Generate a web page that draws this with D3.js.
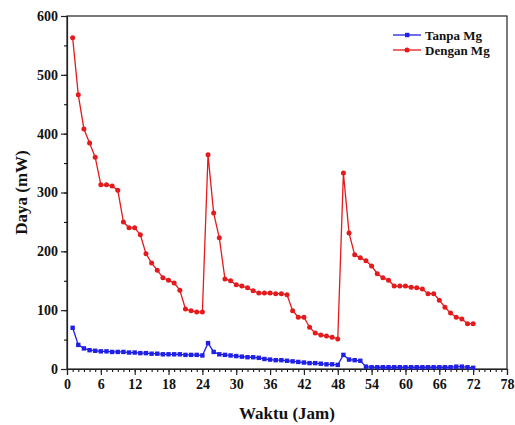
<!DOCTYPE html>
<html>
<head>
<meta charset="utf-8" />
<script src="https://d3js.org/d3.v7.min.js"></script>
<style>
  body { margin: 0; background: #fff; }
  text { font-family: "Liberation Serif", "DejaVu Serif", serif; font-weight: bold; }
</style>
</head>
<body>
<div id="chart"></div>
<script>
// hours 1..72
var hours = d3.range(1, 73);

var tanpaMg = [70, 41, 35, 32, 31, 30, 30, 29, 29, 29, 28, 28, 27, 27, 26, 26, 25, 25, 25, 25, 24, 24, 24, 23,
  44, 29, 25, 24, 23, 22, 21, 20, 20, 19, 17, 16, 15, 15, 14, 13, 12, 11, 10, 10, 9, 8, 8, 7,
  24, 16, 15, 14, 4, 3, 3, 3, 3, 3, 3, 3, 3, 3, 3, 3, 3, 3, 3, 3, 4, 4, 3, 2];

var denganMg = [563, 466, 408, 384, 360, 313, 313, 311, 304, 250, 240, 240, 228, 196, 180, 168, 155, 151, 146, 134, 102, 99, 97, 97,
  364, 265, 223, 153, 150, 143, 141, 138, 133, 129, 129, 129, 128, 128, 126, 99, 88, 88, 71, 61, 58, 56, 54, 51,
  333, 231, 194, 189, 184, 175, 162, 155, 151, 141, 141, 141, 139, 138, 136, 128, 128, 117, 105, 95, 88, 85, 77, 77];

var xTicks = [0, 6, 12, 18, 24, 30, 36, 42, 48, 54, 60, 66, 72, 78];
var yTicks = [0, 100, 200, 300, 400, 500, 600];
var seriesNames = ["Tanpa Mg", "Dengan Mg"];

var width = 515, height = 425;
var margin = {top: 16, right: 8, bottom: 56, left: 67};

var svg = d3.select("#chart").append("svg")
  .attr("width", width)
  .attr("height", height);

var x = d3.scaleLinear().domain([0, 78]).range([margin.left, width - margin.right]);
var y = d3.scaleLinear().domain([0, 600]).range([height - margin.bottom, margin.top]);

// frame
svg.append("rect")
  .attr("x", x(0)).attr("y", y(600))
  .attr("width", x(78) - x(0)).attr("height", y(0) - y(600))
  .attr("fill", "none").attr("stroke", "#222").attr("stroke-width", 1.2);

// minor ticks
svg.append("g")
  .attr("transform", "translate(0," + y(0) + ")")
  .call(d3.axisBottom(x).tickValues(d3.range(0, 79, 1)).tickSize(3).tickFormat(""))
  .call(function(g) { g.select(".domain").remove(); });
svg.append("g")
  .attr("transform", "translate(" + x(0) + ",0)")
  .call(d3.axisLeft(y).tickValues(d3.range(0, 601, 50)).tickSize(3).tickFormat(""))
  .call(function(g) { g.select(".domain").remove(); });

// major axes
var xAxis = svg.append("g")
  .attr("transform", "translate(0," + y(0) + ")")
  .call(d3.axisBottom(x).tickValues(xTicks).tickSize(6).tickPadding(4));
var yAxis = svg.append("g")
  .attr("transform", "translate(" + x(0) + ",0)")
  .call(d3.axisLeft(y).tickValues(yTicks).tickSize(6).tickPadding(3));

[xAxis, yAxis].forEach(function(a) {
  a.selectAll("text").style("font-size", "14px").style("font-family", "Liberation Serif").style("font-weight", "bold").attr("fill", "#111");
  a.selectAll("line").attr("stroke", "#222").attr("stroke-width", 1.2);
  a.select(".domain").attr("stroke", "#222").attr("stroke-width", 1.2);
});

// axis titles
svg.append("text")
  .attr("x", (x(0) + x(78)) / 2).attr("y", 419)
  .attr("text-anchor", "middle")
  .style("font-size", "17px").attr("fill", "#111")
  .text("Waktu (Jam)");
svg.append("text")
  .attr("transform", "translate(27," + (y(300)) + ") rotate(-90)")
  .attr("text-anchor", "middle")
  .style("font-size", "17px").attr("fill", "#111")
  .text("Daya (mW)");

var line = d3.line()
  .x(function(d) { return x(d[0]); })
  .y(function(d) { return y(d[1]); });

var blue = "#1f1fe6", red = "#e41a1c";

var blueData = hours.map(function(h, i) { return [h, tanpaMg[i]]; });
var redData = hours.map(function(h, i) { return [h, denganMg[i]]; });

// Tanpa Mg
svg.append("path").datum(blueData)
  .attr("d", line).attr("fill", "none").attr("stroke", blue).attr("stroke-width", 1.3);
svg.append("g").selectAll("rect").data(blueData).enter().append("rect")
  .attr("x", function(d) { return x(d[0]) - 2.2; })
  .attr("y", function(d) { return y(d[1]) - 2.2; })
  .attr("width", 4.4).attr("height", 4.4)
  .attr("fill", blue);

// Dengan Mg
svg.append("path").datum(redData)
  .attr("d", line).attr("fill", "none").attr("stroke", red).attr("stroke-width", 1.3);
svg.append("g").selectAll("circle").data(redData).enter().append("circle")
  .attr("cx", function(d) { return x(d[0]); })
  .attr("cy", function(d) { return y(d[1]); })
  .attr("r", 2.5)
  .attr("fill", red);

// legend
var legend = svg.append("g").attr("transform", "translate(393,35)");
seriesNames.forEach(function(name, i) {
  var col = i === 0 ? blue : red;
  var g = legend.append("g").attr("transform", "translate(0," + (i * 15) + ")");
  g.append("line").attr("x1", 0).attr("x2", 28).attr("y1", 0).attr("y2", 0)
    .attr("stroke", col).attr("stroke-width", 1.3);
  if (i === 0) {
    g.append("rect").attr("x", 12).attr("y", -2.2).attr("width", 4.4).attr("height", 4.4).attr("fill", col);
  } else {
    g.append("circle").attr("cx", 14).attr("cy", 0).attr("r", 2.5).attr("fill", col);
  }
  g.append("text").attr("x", 32).attr("y", 4.5)
    .style("font-size", "13px").attr("fill", "#111")
    .text(name);
});
</script>
</body>
</html>
